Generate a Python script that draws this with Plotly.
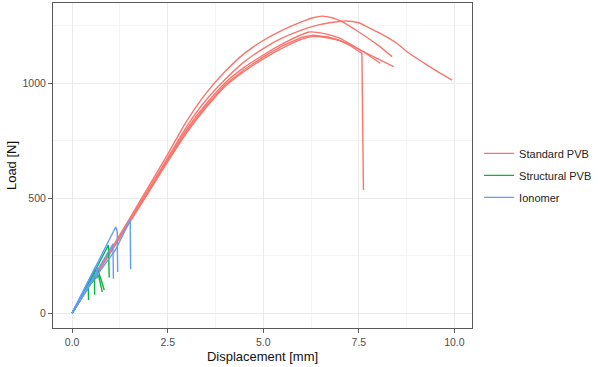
import plotly.graph_objects as go

# ---------------- data ----------------
# Standard PVB specimens
std_a_x = [0, 0.5, 1, 1.5, 2, 2.5, 3, 3.5, 4, 4.5, 5, 5.5, 6, 6.3, 6.54, 6.8, 7.06, 7.5, 8, 8.37]
std_a_y = [0, 135, 272, 410, 550, 690, 835, 955, 1050, 1128, 1185, 1230, 1266, 1284, 1291, 1284, 1267, 1222, 1165, 1115]

std_b_x = [0, 0.5, 1, 1.5, 2, 2.5, 3, 3.5, 4, 4.5, 5, 5.5, 6, 6.5, 7.15, 7.5, 7.71, 8.06, 8.5, 8.76, 9.29, 9.6, 9.94]
std_b_y = [0, 133, 268, 402, 538, 675, 812, 925, 1015, 1092, 1150, 1196, 1230, 1255, 1270, 1262, 1245, 1216, 1172, 1136, 1078, 1045, 1013]

std_c_x = [0, 0.5, 1, 1.5, 2, 2.5, 3, 3.5, 4, 4.5, 5, 5.5, 6, 6.2, 6.6, 7, 7.54, 8, 8.41]
std_c_y = [0, 132, 265, 398, 532, 668, 800, 908, 1000, 1068, 1122, 1170, 1210, 1222, 1215, 1195, 1143, 1105, 1071]

std_d_x = [0, 0.5, 1, 1.5, 2, 2.5, 3, 3.5, 4, 4.5, 5, 5.5, 6, 6.3, 6.7, 7, 7.5, 8.06]
std_d_y = [0, 130, 262, 393, 525, 658, 785, 892, 985, 1050, 1105, 1152, 1190, 1202, 1196, 1185, 1148, 1086]

std_e_x = [0, 0.5, 1, 1.5, 2, 2.5, 3, 3.5, 4, 4.5, 5, 5.5, 6, 6.3, 6.7, 7, 7.3, 7.58, 7.59, 7.61, 7.62]
std_e_y = [0, 131, 263, 396, 528, 662, 792, 900, 992, 1058, 1114, 1162, 1198, 1208, 1200, 1185, 1160, 1129, 1000, 800, 535]

# Structural PVB specimens
str_a_x = [0, 0.2, 0.42, 0.43]
str_a_y = [0, 55, 122, 57]
str_b_x = [0, 0.3, 0.58, 0.59]
str_b_y = [0, 90, 187, 80]
str_c_x = [0, 0.35, 0.65, 0.75, 0.84]
str_c_y = [0, 105, 196, 150, 100]
str_d_x = [0, 0.4, 0.69, 0.74, 0.79]
str_d_y = [0, 112, 165, 125, 91]
str_e_x = [0, 0.5, 0.95, 0.97]
str_e_y = [0, 152, 296, 155]

# Ionomer specimens
ion_a_x = [0, 0.5, 1.13, 1.52, 1.53]
ion_a_y = [0, 130, 274, 404, 190]
ion_b_x = [0, 0.5, 0.86, 1.14, 1.18, 1.19]
ion_b_y = [0, 165, 280, 374, 355, 178]
ion_c_x = [0, 0.5, 1.07, 1.08]
ion_c_y = [0, 142, 301, 149]
ion_d_x = [0, 0.3, 0.61, 0.64, 0.66]
ion_d_y = [0, 100, 200, 188, 150]

# (x, y, smooth?) per specimen
groups = [
    ("Standard PVB", "#F8766D", [(std_a_x, std_a_y, True), (std_b_x, std_b_y, True),
                                  (std_c_x, std_c_y, True), (std_d_x, std_d_y, True),
                                  (std_e_x, std_e_y, False)]),
    ("Structural PVB", "#00BA38", [(str_a_x, str_a_y, False), (str_b_x, str_b_y, False),
                                    (str_c_x, str_c_y, False), (str_d_x, str_d_y, False),
                                    (str_e_x, str_e_y, False)]),
    ("Ionomer", "#619CFF", [(ion_a_x, ion_a_y, False), (ion_b_x, ion_b_y, False),
                            (ion_c_x, ion_c_y, False), (ion_d_x, ion_d_y, False)]),
]

x_ticks = [0, 2.5, 5, 7.5, 10]
x_tick_labels = ["0.0", "2.5", "5.0", "7.5", "10.0"]
y_ticks = [0, 500, 1000]
y_tick_labels = ["0", "500", "1000"]

# ---------------- figure ----------------
FONT = "Liberation Sans, Arial, sans-serif"
fig = go.Figure()
for name, color, specimens in groups:
    for i, (xs, ys, smooth) in enumerate(specimens):
        line = dict(color=color, width=1.4)
        if smooth:
            line.update(shape="spline", smoothing=0.6)
        fig.add_trace(go.Scatter(
            x=xs, y=ys, mode="lines", name=name, legendgroup=name,
            showlegend=(i == 0), line=line, hoverinfo="skip"))

axis_common = dict(
    showline=True, mirror=True, linecolor="#5a5a5a", linewidth=1,
    ticks="outside", ticklen=4, tickcolor="#5a5a5a", tickwidth=1,
    gridcolor="#EBEBEB", gridwidth=1, zeroline=False, automargin=False,
    tickfont=dict(family=FONT, size=10.5, color="#4D4D4D"),
)

fig.update_xaxes(
    range=[-0.5, 10.46], tickvals=x_ticks, ticktext=x_tick_labels,
    minor=dict(dtick=1.25, tick0=0, showgrid=True, gridcolor="#F4F4F4", gridwidth=1),
    title=dict(text="Displacement [mm]", font=dict(family=FONT, size=13, color="#111"), standoff=5),
    **axis_common)
fig.update_yaxes(
    range=[-65, 1348], tickvals=y_ticks, ticktext=y_tick_labels,
    minor=dict(dtick=250, tick0=0, showgrid=True, gridcolor="#F4F4F4", gridwidth=1),
    title=dict(text="Load [N]", font=dict(family=FONT, size=13, color="#111"), standoff=2),
    **axis_common)

fig.update_layout(
    width=600, height=367,
    margin=dict(l=53, r=128, t=3, b=39, autoexpand=False),
    paper_bgcolor="white", plot_bgcolor="white",
    font=dict(family=FONT),
    legend=dict(
        x=1.017, xanchor="left", y=0.582, yanchor="top",
        traceorder="grouped", tracegroupgap=3,
        font=dict(family=FONT, size=11, color="#222"),
        bgcolor="rgba(0,0,0,0)", borderwidth=0),
)

fig.write_html("out.html", config={"displayModeBar": False},
               post_script="document.body.style.margin='0';")
